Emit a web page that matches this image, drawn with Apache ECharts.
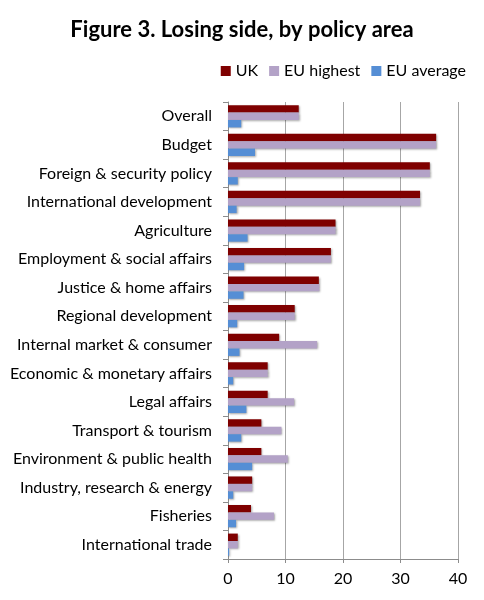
<!DOCTYPE html>
<html>
<head>
<meta charset="utf-8">
<script src="https://cdn.jsdelivr.net/npm/echarts@6/dist/echarts.min.js"></script>
<style>
html,body{margin:0;padding:0;background:#fff;}
#chart{width:484px;height:600px;}
</style>
</head>
<body>
<div id="chart"></div>
<script>
var categories = ["Overall","Budget","Foreign & security policy","International development","Agriculture","Employment & social affairs","Justice & home affairs","Regional development","Internal market & consumer","Economic & monetary affairs","Legal affairs","Transport & tourism","Environment & public health","Industry, research & energy","Fisheries","International trade"];
var ukValues = [12.3, 36.2, 35.1, 33.4, 18.7, 17.9, 15.8, 11.6, 8.9, 6.9, 6.9, 5.8, 5.8, 4.2, 4.0, 1.7];
var euHighest = [12.3, 36.2, 35.1, 33.4, 18.7, 17.9, 15.9, 11.6, 15.5, 6.9, 11.5, 9.3, 10.4, 4.2, 8.0, 1.7];
var euAverage = [2.3, 4.7, 1.7, 1.5, 3.4, 2.8, 2.7, 1.6, 2.0, 0.9, 3.2, 2.3, 4.2, 0.9, 1.4, 0.2];
var xTicks = [0, 10, 20, 30, 40];

var font = "Lato, 'Open Sans', sans-serif";
var chart = echarts.init(document.getElementById('chart'), null, {renderer: 'canvas'});
var shadow = {shadowColor: 'rgba(0,0,0,0.35)', shadowBlur: 2, shadowOffsetX: 1, shadowOffsetY: 1};
function s(name, data, color) {
  return {
    name: name, type: 'bar', data: data, barGap: '0%', barCategoryGap: '22%',
    itemStyle: Object.assign({color: color}, shadow),
    animation: false
  };
}
chart.setOption({
  backgroundColor: '#fff',
  animation: false,
  title: {
    text: 'Figure 3. Losing side, by policy area',
    left: 'center', top: 14,
    textStyle: {fontFamily: font, fontWeight: 'bold', fontSize: 22, color: '#000'}
  },
  legend: {
    top: 58, right: 13,
    itemWidth: 10, itemHeight: 10, itemGap: 11,
    icon: 'rect',
    textStyle: {fontFamily: font, fontSize: 16, color: '#000'},
    data: ['UK', 'EU highest', 'EU average']
  },
  grid: {left: 228, right: 26, top: 102, bottom: 41, containLabel: false},
  xAxis: {
    type: 'value', min: xTicks[0], max: xTicks[xTicks.length-1], interval: 10,
    axisLine: {show: true, lineStyle: {color: '#8c8c8c'}},
    axisTick: {show: true, length: 4, lineStyle: {color: '#8c8c8c'}},
    axisLabel: {fontFamily: font, fontSize: 16, color: '#000', margin: 12},
    splitLine: {show: true, lineStyle: {color: '#a6a6a6', width: 1}}
  },
  yAxis: {
    type: 'category', data: categories, inverse: true,
    axisLine: {show: true, lineStyle: {color: '#8c8c8c'}},
    axisTick: {show: true, inside: false, length: 5, lineStyle: {color: '#8c8c8c'}},
    axisLabel: {fontFamily: font, fontSize: 16, color: '#000', margin: 16}
  },
  series: [
    s('UK', ukValues, '#7f0000'),
    s('EU highest', euHighest, '#b3a2c7'),
    s('EU average', euAverage, '#558ed5')
  ]
});
</script>
</body>
</html>
